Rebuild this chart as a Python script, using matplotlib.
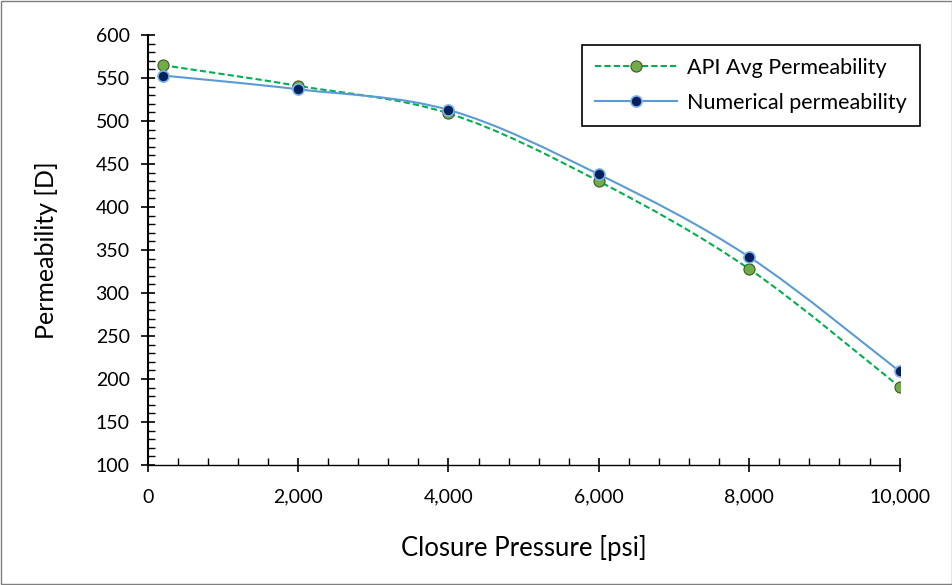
import numpy as np
import matplotlib.pyplot as plt
from matplotlib.path import Path
from matplotlib.patches import PathPatch
from matplotlib.lines import Line2D
from matplotlib.ticker import MultipleLocator, FuncFormatter

# data
pressure = [200, 2000, 4000, 6000, 8000, 10000]
api_perm = [565, 541, 509, 430, 328, 191]
num_perm = [553, 537, 513, 438, 342, 209]

plt.rcParams['font.family'] = ['Lato', 'DejaVu Sans']


# smooth curve like Excel (Catmull-Rom -> bezier)
def smooth_path(x, y):
    x = np.asarray(x, float)
    y = np.asarray(y, float)
    verts = [(x[0], y[0])]
    codes = [Path.MOVETO]
    n = len(x)
    for i in range(n - 1):
        x0, y0 = (x[i - 1], y[i - 1]) if i > 0 else (x[i], y[i])
        x3, y3 = (x[i + 2], y[i + 2]) if i + 2 < n else (x[i + 1], y[i + 1])
        c1 = (x[i] + (x[i + 1] - x0) / 6, y[i] + (y[i + 1] - y0) / 6)
        c2 = (x[i + 1] - (x3 - x[i]) / 6, y[i + 1] - (y3 - y[i]) / 6)
        verts += [c1, c2, (x[i + 1], y[i + 1])]
        codes += [Path.CURVE4] * 3
    return Path(verts, codes)


fig = plt.figure(figsize=(9.53, 5.85), dpi=100)
ax = fig.add_axes([0.155, 0.205, 0.789, 0.735])

ax.add_patch(PathPatch(smooth_path(pressure, api_perm), fill=False,
                       edgecolor='#00B050', lw=1.5, ls=(0, (3, 1.5)), zorder=2))
ax.add_patch(PathPatch(smooth_path(pressure, num_perm), fill=False,
                       edgecolor='#5B9BD5', lw=1.5, zorder=2))
ax.plot(pressure, api_perm, ls='none', marker='o', ms=8, mfc='#70AD47',
        mec='#3A5A28', mew=0.8, zorder=3)
ax.plot(pressure, num_perm, ls='none', marker='o', ms=8, mfc='#002060',
        mec='#7FB2E5', mew=1.2, zorder=4)

ax.set_xlim(0, 10000)
ax.set_ylim(100, 600)
ax.xaxis.set_major_locator(MultipleLocator(2000))
ax.xaxis.set_minor_locator(MultipleLocator(400))
ax.yaxis.set_major_locator(MultipleLocator(50))
ax.yaxis.set_minor_locator(MultipleLocator(10))
ax.xaxis.set_major_formatter(FuncFormatter(lambda v, p: f'{int(v):,}'))
ax.tick_params(which='major', direction='inout', length=10, width=1.2,
               labelsize=14, colors='black')
ax.tick_params(which='minor', direction='in', length=5, width=1.0)
ax.tick_params(axis='x', pad=12)
ax.tick_params(axis='y', pad=8)

ax.spines['top'].set_visible(False)
ax.spines['right'].set_visible(False)
ax.spines['left'].set_linewidth(1.5)
ax.spines['bottom'].set_linewidth(1.0)

ax.set_xlabel('Closure Pressure [psi]', fontsize=18.5, labelpad=21)
ax.set_ylabel('Permeability [D]', fontsize=18, labelpad=27)

handles = [
    Line2D([], [], color='#00B050', lw=1.5, ls=(0, (3, 1.5)), marker='o', ms=8,
           mfc='#70AD47', mec='#3A5A28', mew=0.8),
    Line2D([], [], color='#5B9BD5', lw=1.5, marker='o', ms=8,
           mfc='#002060', mec='#7FB2E5', mew=1.2),
]
leg = ax.legend(handles, ['API Avg Permeability', 'Numerical permeability'],
                loc='upper right', bbox_to_anchor=(1.027, 0.977), fontsize=15.5,
                fancybox=False, framealpha=1, edgecolor='black',
                borderpad=0.6, handlelength=3.8, handletextpad=0.5,
                labelspacing=0.7, borderaxespad=0)
leg.get_frame().set_linewidth(1.2)

fig.patches.append(plt.Rectangle((0.001, 0.001), 0.998, 0.997, transform=fig.transFigure,
                                 fill=False, edgecolor='#7F7F7F', lw=1))

fig.savefig('out.png', dpi=100)
